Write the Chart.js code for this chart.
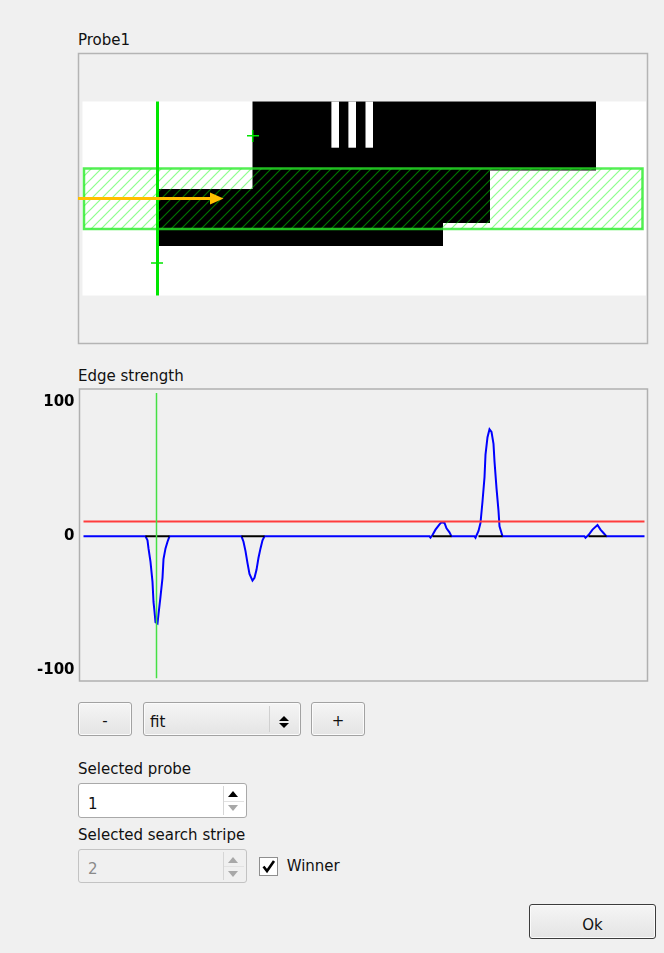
<!DOCTYPE html>
<html>
<head>
<meta charset="utf-8">
<script src="https://cdn.jsdelivr.net/npm/chart.js@4.4.1/dist/chart.umd.min.js"></script>
<style>
body { margin:0; background:#f0f0f0; width:664px; height:953px; overflow:hidden;
       font-family:"DejaVu Sans", sans-serif; font-size:15px; color:#111; position:relative; }
.lbl { position:absolute; line-height:15px; white-space:nowrap; }
.btn { position:absolute; box-sizing:border-box; border:1px solid #a2a2a2; border-radius:3px;
       background:linear-gradient(#f5f5f5, #e4e4e4); box-shadow:inset 0 0 0 1px #fbfbfb; }
.spin { position:absolute; box-sizing:border-box; border:1px solid #a9a9a9; border-radius:3px; background:#fff; }
.spin .sep { position:absolute; left:144px; top:2px; bottom:2px; width:22px; border-left:1px solid #d6d6d6; }
.spin .mid { position:absolute; left:145px; right:2px; top:50%; border-top:1px solid #e2e2e2; }
.up, .dn { position:absolute; width:0; height:0; border-left:5px solid transparent; border-right:5px solid transparent; }
.up { border-bottom:6px solid #000; }
.dn { border-top:6px solid #9a9a9a; }
#chartBox { position:absolute; left:0; top:375px; width:664px; height:320px; }
</style>
</head>
<body>

<svg style="position:absolute;left:0;top:0" width="664" height="360">
  <defs>
    <pattern id="hatch" patternUnits="userSpaceOnUse" width="10" height="10">
      <path d="M-1,1 l2,-2 M0,10 l10,-10 M9,11 l2,-2" stroke="rgba(0,255,0,0.45)" stroke-width="1.2"/>
    </pattern>
  </defs>
  <rect x="78.5" y="53.5" width="569" height="290" fill="none" stroke="#b4b4b4" stroke-width="1.5"/>
  <rect x="82.5" y="101.5" width="563.5" height="194" fill="#fff"/>
  <polygon points="252.5,101.5 596,101.5 596,170.5 490,170.5 490,223 443,223 443,246 158,246 158,189 252.5,189" fill="#000"/>
  <rect x="331.4" y="101.5" width="7.6" height="46.2" fill="#fff"/>
  <rect x="348.4" y="101.5" width="7.6" height="46.2" fill="#fff"/>
  <rect x="365.5" y="101.5" width="7.5" height="46.2" fill="#fff"/>
  <rect x="84" y="168.5" width="558.5" height="60.5" fill="url(#hatch)" stroke="rgba(40,235,40,0.8)" stroke-width="2.5"/>
  <line x1="157.5" y1="101.5" x2="157.5" y2="295.5" stroke="#00e600" stroke-width="3"/>
  <path d="M247,135.7 h12 M252.7,130 v12 M151,263 h12 M157,257 v12" stroke="#00e600" stroke-width="1.5"/>
  <line x1="78" y1="198.5" x2="212" y2="198.5" stroke="#ffc000" stroke-width="3"/>
  <polygon points="210,192.5 223.5,198.5 210,204.5" fill="#ffc000"/>
</svg>

<div class="lbl" style="left:78px;top:33.3px">Probe1</div>
<div class="lbl" style="left:78px;top:369px">Edge strength</div>

<div id="chartBox"><canvas id="edgeChart" width="664" height="320"></canvas></div>

<div class="btn" style="left:78px;top:702px;width:54px;height:34px"><div class="lbl" style="left:0;right:0;text-align:center;top:11px">-</div></div>
<div class="btn" style="left:142.5px;top:702px;width:158.5px;height:34px">
  <div class="lbl" style="left:6.5px;top:11.5px">fit</div>
  <div style="position:absolute;left:125px;top:3px;bottom:3px;border-left:1px solid #d0d0d0"></div>
  <div class="up" style="left:135px;top:13px;border-left-width:5px;border-right-width:5px;border-bottom-width:5px"></div>
  <div class="dn" style="left:135px;top:20px;border-top-color:#000;border-top-width:5px"></div>
</div>
<div class="btn" style="left:311px;top:702px;width:54px;height:34px"><div class="lbl" style="left:0;right:0;text-align:center;top:11px">+</div></div>

<div class="lbl" style="left:78px;top:762.3px">Selected probe</div>
<div class="spin" style="left:78px;top:783px;width:169px;height:35px">
  <div class="lbl" style="left:9px;top:12.5px">1</div>
  <div class="sep"></div><div class="mid"></div>
  <div class="up" style="left:149px;top:7px"></div>
  <div class="dn" style="left:149px;top:21px;border-top-color:#a8a8a8"></div>
</div>

<div class="lbl" style="left:78px;top:828px">Selected search stripe</div>
<div class="spin" style="left:78px;top:849px;width:169px;height:34px;background:#f0f0f0;border-color:#c3c3c3">
  <div class="lbl" style="left:9px;top:11.5px;color:#8a8a8a">2</div>
  <div class="sep"></div><div class="mid"></div>
  <div class="up" style="left:149px;top:6.5px;border-bottom-color:#a8a8a8"></div>
  <div class="dn" style="left:149px;top:20.5px;border-top-color:#a8a8a8"></div>
</div>
<div style="position:absolute;left:259px;top:856.5px;width:19px;height:19px;box-sizing:border-box;border:1px solid #8f8f8f;background:#fff">
  <svg width="17" height="17" style="position:absolute;left:0;top:0"><path d="M3.5,8.5 L7,13 L14,3" fill="none" stroke="#000" stroke-width="2.6"/></svg>
</div>
<div class="lbl" style="left:286.7px;top:859px">Winner</div>

<div class="btn" style="left:529px;top:904px;width:127px;height:35px;border-color:#3c3c3c">
  <div class="lbl" style="left:0;right:0;text-align:center;top:12.5px">Ok</div>
</div>

<script>
// edge strength profile along the probe (position in px, strength)
const profileX = [0,
  62, 64, 65, 67, 69, 70, 71, 72, 74, 75, 77, 79, 80, 82, 84, 86,
  158, 160, 162, 164, 166, 169, 171, 173, 175, 177, 179, 181,
  346, 347, 349, 352, 356, 358, 361, 363, 366, 368,
  391, 392, 395, 397, 399, 401, 402, 404, 406, 408, 410, 411, 413, 415, 416, 419,
  501, 502, 505, 509, 514, 517, 520, 523,
  561];
const profileY = [0,
  0, -3, -9, -19, -34, -49, -56, -64, -65, -58, -45, -31, -17, -9, -4, 0,
  0, -4, -11, -20, -28, -33, -31, -25, -16, -9, -3, 0,
  0, -1, 1, 5, 9, 10.5, 10, 6, 3, 0,
  0, -1, 4, 10, 26, 44, 61, 74, 80, 78, 69, 56, 36, 19, 7.5, 0,
  0, -1, 1, 5, 8.5, 5, 2.5, 0,
  0];
// detected edge ranges (black marks on the zero line)
const edgeStart = [62, 158, 349, 395, 505];
const edgeEnd = [86, 181, 368, 419, 523];
const threshold = 11;
const selectedPos = 73;
const yTicks = [-100, 0, 100];

const profile = profileX.map((x, i) => ({ x: x, y: profileY[i] }));
const edges = [];
edgeStart.forEach((s, i) => {
  edges.push({ x: s, y: 0 }, { x: edgeEnd[i], y: 0 }, { x: edgeEnd[i] + 1, y: null });
});

const frame = {
  id: 'frame',
  beforeDraw(c) {
    const { ctx, chartArea: a } = c;
    ctx.save();
    ctx.strokeStyle = '#b0b0b0';
    ctx.lineWidth = 1.5;
    ctx.strokeRect(a.left, a.top, a.right - a.left, a.bottom - a.top);
    ctx.restore();
  }
};

const line = (data, color, width) => ({
  data: data, borderColor: color, borderWidth: width,
  pointRadius: 0, tension: 0, fill: false, spanGaps: false
});

new Chart(document.getElementById('edgeChart'), {
  type: 'line',
  data: {
    datasets: [
      line([{ x: selectedPos, y: 107 }, { x: selectedPos, y: -106 }], '#44e044', 1.5),
      line([{ x: 0, y: threshold }, { x: 561, y: threshold }], '#ff3c3c', 2),
      line(edges, '#000', 2),
      line(profile, '#0000ff', 2)
    ]
  },
  options: {
    responsive: false,
    animation: false,
    devicePixelRatio: 1,
    layout: { padding: { left: 0, right: 16.5, top: 9, bottom: 10 } },
    plugins: { legend: { display: false }, tooltip: { enabled: false } },
    scales: {
      x: { type: 'linear', min: -4, max: 564, display: false },
      y: {
        min: -108, max: 110,
        grid: { display: false, drawTicks: false },
        border: { display: false },
        afterBuildTicks: s => { s.ticks = yTicks.map(v => ({ value: v })); },
        afterFit: s => { s.width = 79.5; },
        ticks: { padding: 5, color: '#000', font: { family: 'DejaVu Sans', weight: 'bold', size: 15 } }
      }
    }
  },
  plugins: [frame]
});
</script>
</body>
</html>
